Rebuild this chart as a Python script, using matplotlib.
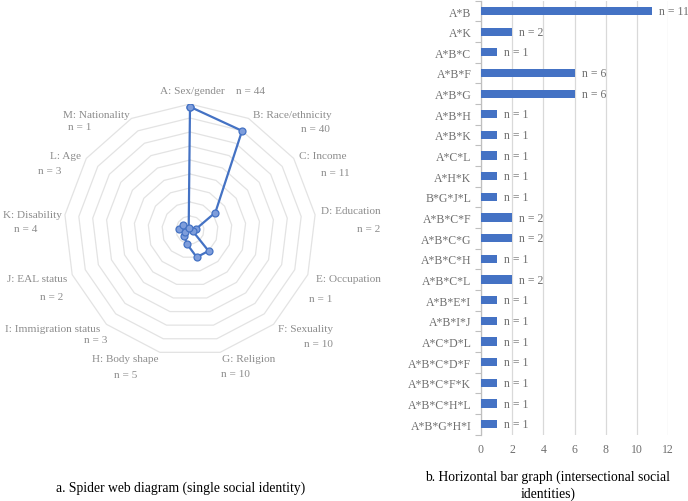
import numpy as np
import matplotlib.pyplot as plt

plt.rcParams['font.family'] = ['Liberation Serif', 'DejaVu Serif']

# radar data (single social identity)
radar_labels = ["A: Sex/gender", "B: Race/ethnicity", "C: Income", "D: Education",
                "E: Occupation", "F: Sexuality", "G: Religion", "H: Body shape",
                "I: Immigration status", "J: EAL status", "K: Disability",
                "L: Age", "M: Nationality"]
radar_values = [44, 40, 11, 2, 1, 10, 10, 5, 3, 2, 4, 3, 1]

# bar data (intersectional identities)
bar_labels = ["A*B", "A*K", "A*B*C", "A*B*F", "A*B*G", "A*B*H", "A*B*K", "A*C*L",
              "A*H*K", "B*G*J*L", "A*B*C*F", "A*B*C*G", "A*B*C*H", "A*B*C*L",
              "A*B*E*I", "A*B*I*J", "A*C*D*L", "A*B*C*D*F", "A*B*C*F*K",
              "A*B*C*H*L", "A*B*G*H*I"]
bar_values = [11, 2, 1, 6, 6, 1, 1, 1, 1, 1, 2, 2, 1, 2, 1, 1, 1, 1, 1, 1, 1]

# label positions in pixels (label line, n line)
label_pos = [((192, 92), (250, 92)), ((292, 115), (315, 130)), ((323, 157), (335, 173)),
             ((351, 212), (369, 229)), ((348, 280), (321, 299)), ((306, 330), (318, 345)),
             ((249, 360), (235, 375)), ((125, 360), (126, 376)), ((53, 330), (96, 341)),
             ((37, 280), (52, 297)), ((32, 216), (26, 229)), ((66, 157), (50, 172)),
             ((96, 115), (80, 128))]

W, H = 688, 502
fig = plt.figure(figsize=(W / 100, H / 100), dpi=100)

blue = '#4472c4'
label_grey = '#8c8c8c'
tick_grey = '#6f6f6f'

# ---- spider web ----
cx, cy, R = 190, 231, 126
rmax = 45
ax = fig.add_axes([(cx - R) / W, 1 - (cy + R) / H, 2 * R / W, 2 * R / H])
n = len(radar_values)
theta = np.arange(n) * 2 * np.pi / n
for ring in range(5, rmax + 1, 5):
    t = np.append(theta, theta[0])
    ax.plot(ring * np.sin(t), ring * np.cos(t), color='#e3e3e3', lw=0.9, zorder=1)
vals = np.array(radar_values + radar_values[:1], dtype=float)
t = np.append(theta, theta[0])
ax.plot(vals * np.sin(t), vals * np.cos(t), color=blue, lw=1.6, marker='o',
        markersize=5, markerfacecolor='#7e9ddb', markeredgecolor=blue,
        markeredgewidth=0.9, zorder=3)
ax.set_xlim(-rmax, rmax)
ax.set_ylim(-rmax, rmax)
ax.axis('off')

for lab, v, (p1, p2) in zip(radar_labels, radar_values, label_pos):
    fig.text(p1[0] / W, 1 - p1[1] / H, lab, ha='center', va='center',
             fontsize=8.1, color=label_grey)
    fig.text(p2[0] / W, 1 - p2[1] / H, f"n = {v}", ha='center', va='center',
             fontsize=8.1, color=label_grey)

fig.text(181 / W, 1 - 488 / H, "a. Spider web diagram (single social identity)",
         ha='center', va='center', fontsize=9.8, color='black')

# ---- horizontal bars ----
bx = fig.add_axes([481 / W, 1 - 435.5 / H, 187 / W, 433.8 / H])
y = np.arange(len(bar_values))
bx.barh(y, bar_values, height=0.4, color=blue, zorder=3)
for yi, v in zip(y, bar_values):
    bx.text(v + 0.45, yi, f"n = {v}", va='center', ha='left', fontsize=8.5,
            color=tick_grey)
bx.set_xlim(0, 12)
bx.set_ylim(len(bar_values) - 0.5, -0.5)
bx.set_xticks(range(0, 13, 2))
bx.set_yticks(y)
bx.set_yticklabels(bar_labels)
bx.set_yticks(np.arange(len(bar_values) + 1) - 0.5, minor=True)
bx.tick_params(axis='y', which='major', length=0, pad=7, labelsize=8.5,
               labelcolor=tick_grey)
bx.tick_params(axis='y', which='minor', length=4, color='#bfbfbf', width=0.8)
bx.tick_params(axis='x', length=0, labelsize=8.5, labelcolor=tick_grey, pad=6)
bx.grid(axis='x', color='#d9d9d9', lw=0.9, zorder=0)
for s in ['top', 'right', 'bottom']:
    bx.spines[s].set_visible(False)
bx.spines['left'].set_color('#bfbfbf')
bx.spines['left'].set_linewidth(0.9)

fig.text(548 / W, 1 - 477 / H, "b. Horizontal bar graph (intersectional social",
         ha='center', va='center', fontsize=9.8, color='black')
fig.text(548 / W, 1 - 494 / H, "identities)",
         ha='center', va='center', fontsize=9.8, color='black')

fig.savefig('out.png', dpi=100)
